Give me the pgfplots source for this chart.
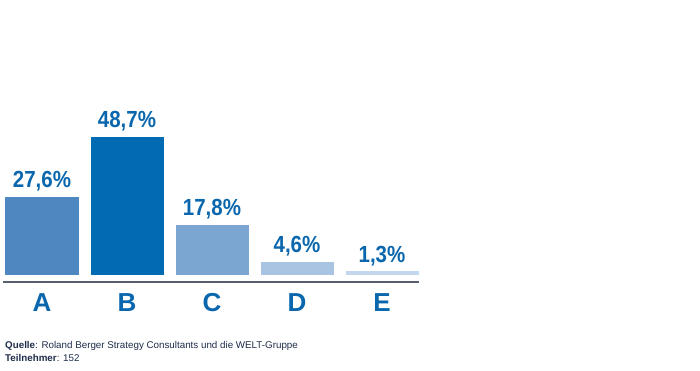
\documentclass[border=0pt]{standalone}
\usepackage{fontspec}
\setmainfont{Liberation Sans}
\usepackage{pgfplots}
\pgfplotsset{compat=1.18}
\definecolor{cA}{HTML}{4F88C0}
\definecolor{cB}{HTML}{006AB2}
\definecolor{cC}{HTML}{7BA6D1}
\definecolor{cD}{HTML}{A8C4E2}
\definecolor{cE}{HTML}{C2D6EC}
\definecolor{txt}{HTML}{0A67AD}
\definecolor{foot}{HTML}{1E2D4B}
\definecolor{axl}{HTML}{56606C}
\begin{document}
\begin{tikzpicture}[x=1pt,y=1pt]
\useasboundingbox (0,0) rectangle (700,370);
\fill[white] (0,0) rectangle (700,370);
\begin{axis}[
  at={(-0.5pt,95pt)}, anchor=south west, scale only axis,
  width=425pt, height=141.7pt,
  xmin=-0.5, xmax=4.5, ymin=0, ymax=50,
  axis line style={draw=none}, ytick=\empty,
  xtick={0,1,2,3,4}, xticklabels={A,B,C,D,E},
  major tick length=0pt,
  xticklabel style={font=\fontsize{26}{26}\selectfont\bfseries, text=txt, anchor=base, yshift=-36.7pt},
  ybar, bar width=73pt, bar shift=0pt,
  nodes near coords={\scalebox{0.88}[1]{\pgfplotspointmeta}},
  nodes near coords style={font=\fontsize{23.3}{24}\selectfont\bfseries, text=txt, anchor=south, yshift=2pt},
  point meta=explicit symbolic,
  clip=false,
]
\addplot[fill=cA, draw=none] coordinates {(0,27.6) [27,6\%]};
\addplot[fill=cB, draw=none] coordinates {(1,48.7) [48,7\%]};
\addplot[fill=cC, draw=none] coordinates {(2,17.8) [17,8\%]};
\addplot[fill=cD, draw=none] coordinates {(3,4.6) [4,6\%]};
\addplot[fill=cE, draw=none] coordinates {(4,1.3) [1,3\%]};
\draw[axl, line width=1.5pt] (axis cs:-0.455,-2.5) -- (axis cs:4.43,-2.5);
\end{axis}
\node[anchor=base west, inner sep=0, font=\fontsize{9.8}{11}\selectfont, text=foot] at (5,22) {\textbf{Quelle}: Roland Berger Strategy Consultants und die WELT-Gruppe};
\node[anchor=base west, inner sep=0, font=\fontsize{9.8}{11}\selectfont, text=foot] at (5,8.3) {\textbf{Teilnehmer}: 152};
\end{tikzpicture}
\end{document}
